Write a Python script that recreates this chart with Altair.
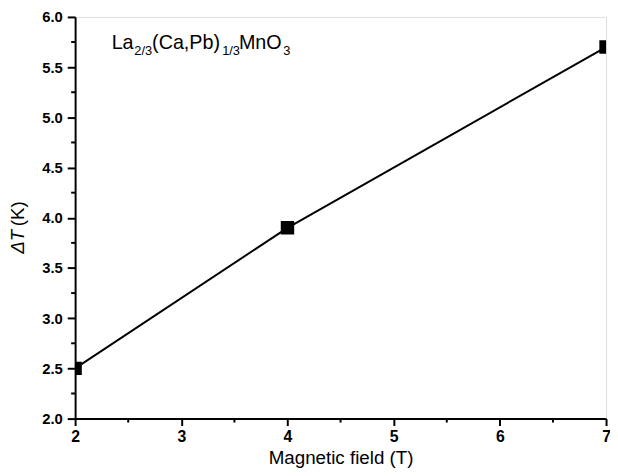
import altair as alt
import pandas as pd

field = [2, 4, 7]
delta_t = [2.5, 3.9, 5.7]

x_major = [2, 3, 4, 5, 6, 7]
x_minor = [2.5, 3.5, 4.5, 5.5, 6.5]
y_major = [2.0, 2.5, 3.0, 3.5, 4.0, 4.5, 5.0, 5.5, 6.0]
y_minor = [2.25, 2.75, 3.25, 3.75, 4.25, 4.75, 5.25, 5.75]

title_text = ["La", "2/3", "(Ca,Pb)", "1/3", "MnO", "3"]
title_sub = [False, True, False, True, False, True]
title_dx = [0, 23, 41, 112, 129, 174]

FONT = "Liberation Sans"
W, H = 538, 407

df = pd.DataFrame({"field": field, "dt": delta_t})

xs = alt.Scale(domain=[2, 7], nice=False, zero=False)
ys = alt.Scale(domain=[2, 6], nice=False, zero=False)

x_axis = alt.Axis(values=x_major, format="d", tickSize=7, tickWidth=2, domainWidth=2,
                  domainColor="black", tickColor="black", labelFont=FONT, labelFontWeight="bold",
                  labelFontSize=16, labelColor="black", labelPadding=3, grid=False,
                  title="Magnetic field (T)", titleFont=FONT, titleFontSize=19,
                  titleFontWeight="normal", titleColor="black", titlePadding=5, labelFlush=False)
y_axis = alt.Axis(values=y_major, format=".1f", tickSize=8, tickWidth=2, domainWidth=2,
                  domainColor="black", tickColor="black", labelFont=FONT, labelFontWeight="bold",
                  labelFontSize=15, labelColor="black", labelPadding=5, grid=False, title=None,
                  labelFlush=False)

line = alt.Chart(df).mark_line(color="black", strokeWidth=2, clip=True).encode(
    x=alt.X("field:Q", scale=xs, axis=x_axis),
    y=alt.Y("dt:Q", scale=ys, axis=y_axis),
)
pts = alt.Chart(df).mark_point(shape="square", filled=True, color="black", opacity=1,
                               size=185, clip=True).encode(
    x=alt.X("field:Q", scale=xs),
    y=alt.Y("dt:Q", scale=ys),
)

minor_x = alt.Chart(pd.DataFrame({"v": x_minor})).mark_rule(color="black", strokeWidth=2).encode(
    x=alt.X("v:Q", scale=xs), y=alt.value(H), y2=alt.value(H + 4)
)
minor_y = alt.Chart(pd.DataFrame({"v": y_minor})).mark_rule(color="black", strokeWidth=2).encode(
    y=alt.Y("v:Q", scale=ys), x=alt.value(-4), x2=alt.value(0)
)

layers = [minor_x, minor_y, line, pts]

for t, sub, dx in zip(title_text, title_sub, title_dx):
    layers.append(
        alt.Chart(pd.DataFrame({"x": [2.344], "y": [5.676], "t": [t]})).mark_text(
            font=FONT, fontSize=13 if sub else 20, align="left", baseline="alphabetic",
            color="black", dx=dx, dy=6 if sub else 0
        ).encode(x=alt.X("x:Q", scale=xs), y=alt.Y("y:Q", scale=ys), text="t:N")
    )

ylab1 = alt.Chart(pd.DataFrame({"x": [1.461], "y": [3.641], "t": ["ΔT"]})).mark_text(
    font=FONT, fontSize=19, fontStyle="italic", angle=270, align="left", baseline="middle", color="black"
).encode(x=alt.X("x:Q", scale=xs), y=alt.Y("y:Q", scale=ys), text="t:N")
ylab2 = alt.Chart(pd.DataFrame({"x": [1.461], "y": [3.641], "t": ["(K)"]})).mark_text(
    font=FONT, fontSize=19, angle=270, align="left", baseline="middle", color="black", dx=28
).encode(x=alt.X("x:Q", scale=xs), y=alt.Y("y:Q", scale=ys), text="t:N")
layers += [ylab1, ylab2]

chart = alt.layer(*layers).properties(
    width=W, height=H,
    autosize=alt.AutoSizeParams(type="none"),
    padding={"left": 68, "top": 6, "right": 4, "bottom": 47},
).configure_view(stroke="black", strokeWidth=2).configure(background="white")

chart.save("out.html", embed_options={"renderer": "svg", "actions": False})
